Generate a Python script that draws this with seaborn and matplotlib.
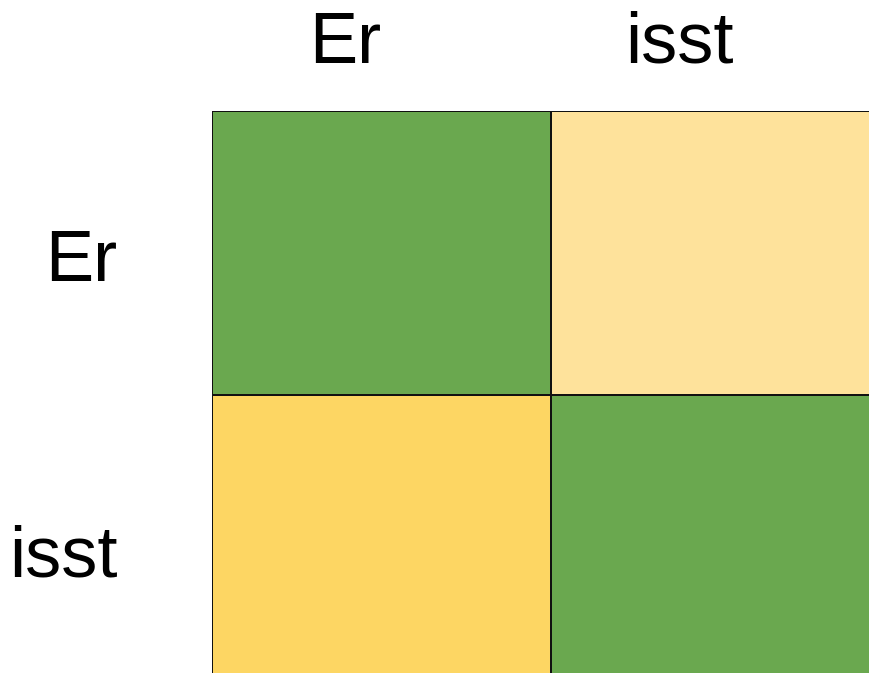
import numpy as np
import matplotlib
matplotlib.use('Agg')
import matplotlib.pyplot as plt
import seaborn as sns
from matplotlib.colors import ListedColormap

# Dados da matriz
rotulos = ['Er', 'isst']
valores = np.array([[2, 0],
                    [1, 2]])
cores = ['#fee29b', '#fdd663', '#6aa84f']

sns.set_theme(style='white')
plt.rcParams['font.family'] = ['Liberation Sans', 'DejaVu Sans']

fig = plt.figure(figsize=(8.69, 6.73), dpi=100)
# eixo maior que a figura: a coluna da direita e a linha de baixo ficam cortadas
ax = fig.add_axes([212 / 869, -6 / 673, 678 / 869, 568 / 673])

sns.heatmap(valores, ax=ax, cmap=ListedColormap(cores), vmin=-0.5, vmax=2.5,
            cbar=False, linewidths=1.3, linecolor='#111111', square=False)

ax.xaxis.tick_top()
ax.set_xticks([0.394, 1.38])
ax.set_xticklabels(rotulos, fontsize=52, color='black')
ax.set_yticks([0.535, 1.575])
ax.set_yticklabels(rotulos, fontsize=52, color='black', rotation=0)
ax.tick_params(axis='x', length=0, pad=24)
ax.tick_params(axis='y', length=0, pad=68)

fig.savefig('out.png', dpi=100)
